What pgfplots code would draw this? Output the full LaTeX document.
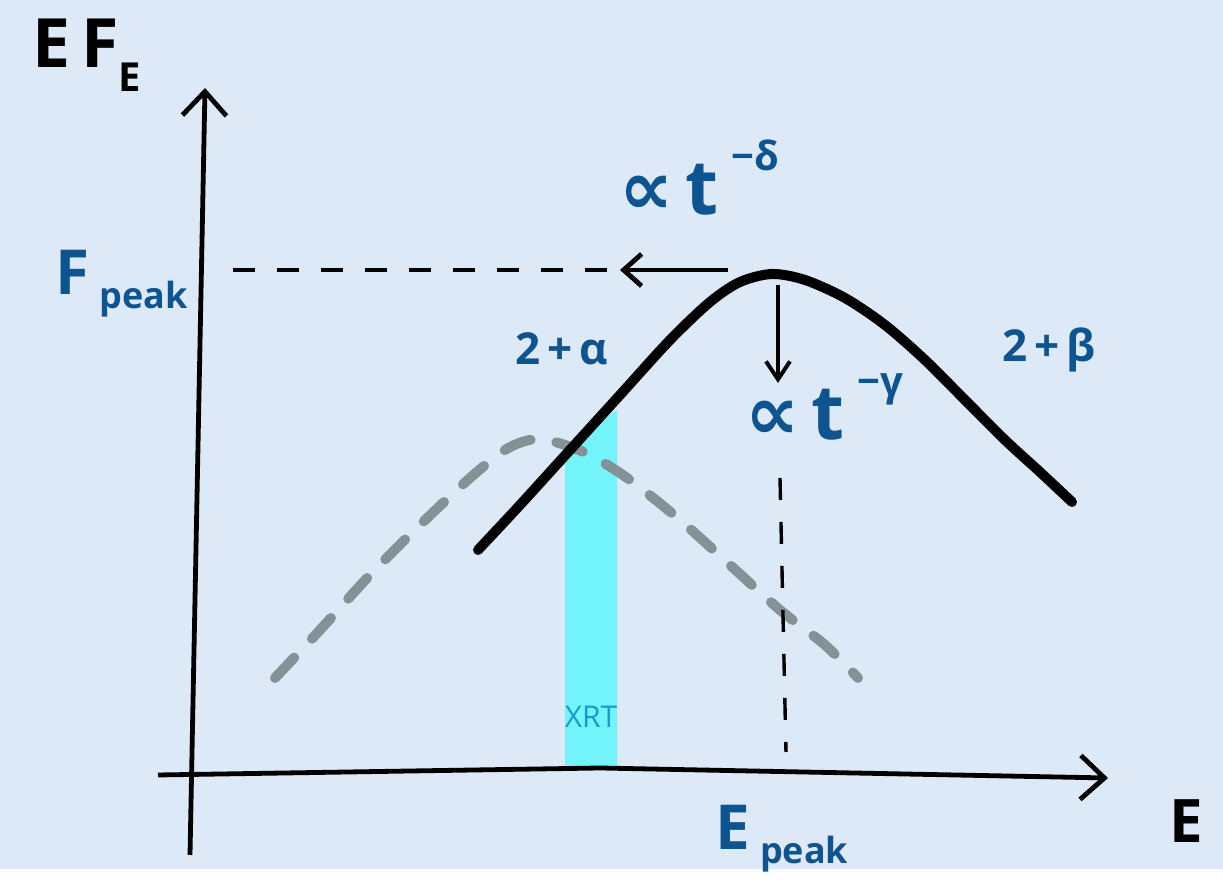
\documentclass[border=0pt]{standalone}
\usepackage{pgfplots}
\pgfplotsset{compat=1.18}
\usepackage{fontspec}
\setmainfont{Open Sans}
\newfontfamily\symfont{DejaVu Sans}
\usetikzlibrary{arrows.meta}
\definecolor{bgblue}{HTML}{DDE9F6}
\definecolor{inkblue}{HTML}{0E5490}
\definecolor{xrtcyan}{HTML}{72F4FA}
\definecolor{xrttext}{HTML}{1A9BD0}
\definecolor{oldgray}{HTML}{849196}
\begin{document}
\begin{tikzpicture}
\begin{axis}[
  width=611.5pt, height=434.5pt, scale only axis,
  xmin=0, xmax=1223, ymin=0, ymax=869, y dir=reverse,
  hide axis, clip=false,
]
% background
\fill[bgblue] (rel axis cs:0,0) rectangle (rel axis cs:1,1);

% XRT band
\addplot[fill=xrtcyan, draw=none] coordinates {
  (565,766) (565,455) (575,445) (590,430) (605,418) (617,410) (617,766)} -- cycle;

% earlier spectrum (grey, dashed)
\addplot[oldgray, line width=5pt, line cap=round, dash pattern=on 14pt off 13pt, smooth, tension=0.5] coordinates {
  (275,678) (320,630) (370,575) (420,525) (470,478) (505,450) (530,440) (555,442)
  (590,455) (630,480) (680,520) (730,565) (780,610) (825,645) (858,678)};

% current spectrum
\addplot[black, line width=5pt, line cap=round, smooth, tension=0.5] coordinates {
  (478,550) (520,505) (570,450) (620,395) (670,340) (710,302) (740,282) (772,274)
  (805,280) (845,298) (885,325) (925,360) (965,400) (1005,440) (1040,472) (1072,502)};

% guide lines
\addplot[black, line width=1.7pt, dash pattern=on 11pt off 11pt] coordinates {(233,270) (612,270)};
\addplot[black, line width=1.7pt, dash pattern=on 11pt off 11pt] coordinates {(780,478) (786,752)};

% peak motion arrows
\addplot[black, line width=2.4pt, -{Straight Barb[length=9pt,width=16pt,line width=2.4pt]}] coordinates {(728,270) (620,270)};
\addplot[black, line width=2pt, -{Straight Barb[length=9pt,width=12pt,line width=2pt]}] coordinates {(778,285) (778,383)};

% axes
\addplot[black, line width=2.4pt, -{Straight Barb[length=12pt,width=22pt,line width=2.4pt]}] coordinates {(190,855) (205,88)};
\addplot[black, line width=2.4pt, -{Straight Barb[length=12pt,width=22pt,line width=2.4pt]}] coordinates {(158,775) (600,768) (1108,778)};

% labels
\node[anchor=base west, font=\bfseries\fontsize{34}{40}\selectfont] at (axis cs:25,68) {E\,F\raisebox{-12pt}{\fontsize{20}{22}\selectfont E}};
\node[anchor=base west, inkblue, font=\bfseries\fontsize{31}{36}\selectfont] at (axis cs:48,295) {F\,\raisebox{-7pt}{\fontsize{18}{22}\selectfont peak}};
\node[anchor=base west, inkblue, font=\bfseries\fontsize{31}{36}\selectfont] at (axis cs:708,850) {E\,\raisebox{-7pt}{\fontsize{18}{22}\selectfont peak}};
\node[anchor=base west, font=\bfseries\fontsize{30}{34}\selectfont] at (axis cs:1162,843) {E};
\node[anchor=base west, inkblue, font=\bfseries\fontsize{38}{40}\selectfont] at (axis cs:612,215) {{\symfont ∝}\,t\,\raisebox{22pt}{\fontsize{20}{24}\selectfont −δ}};
\node[anchor=base west, inkblue, font=\bfseries\fontsize{38}{40}\selectfont] at (axis cs:738,440) {{\symfont ∝}\,t\,\raisebox{22pt}{\fontsize{20}{24}\selectfont −γ}};
\node[anchor=base west, inkblue, font=\bfseries\fontsize{22}{24}\selectfont] at (axis cs:508,365) {2\,+\,α};
\node[anchor=base west, inkblue, font=\bfseries\fontsize{22}{24}\selectfont] at (axis cs:995,362) {2\,+\,β};
\node[anchor=base, xrttext, font=\fontsize{15}{16}\selectfont] at (axis cs:591,728) {XRT};
\end{axis}
\end{tikzpicture}
\end{document}
